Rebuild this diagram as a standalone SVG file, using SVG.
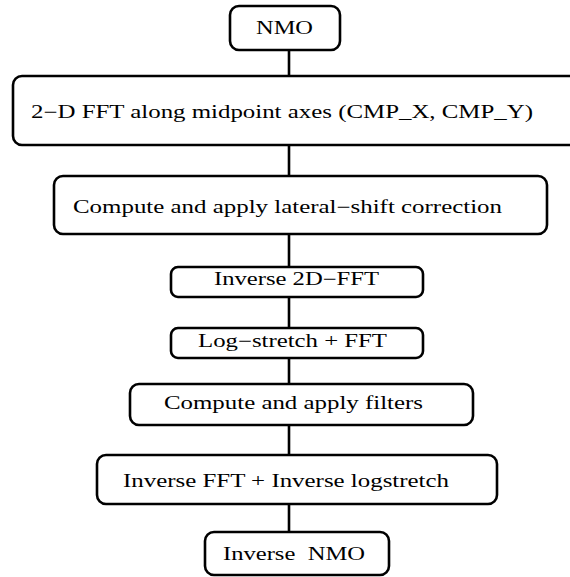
<svg xmlns="http://www.w3.org/2000/svg" width="570" height="577" viewBox="0 0 570 577">
<style>
.box{fill:#fff;stroke:#000;stroke-width:2.6}
.lbl{font-family:"Liberation Serif","Times New Roman",serif;font-size:18px;fill:#000;white-space:pre}
.con{stroke:#000;stroke-width:2.6;fill:none}
</style>
<rect width="570" height="577" fill="#fff"/>
<g id="connectors">
<line class="con" x1="289" y1="50" x2="289" y2="76"/>
<line class="con" x1="289" y1="145" x2="289" y2="176"/>
<line class="con" x1="289" y1="234" x2="289" y2="267"/>
<line class="con" x1="289" y1="297" x2="289" y2="328"/>
<line class="con" x1="289" y1="358" x2="289" y2="384"/>
<line class="con" x1="289" y1="425" x2="289" y2="455"/>
<line class="con" x1="289" y1="504" x2="289" y2="532"/>
</g>
<g id="n1"><rect class="box" x="230" y="6" width="110" height="44" rx="9"/><text class="lbl" x="256" y="34" textLength="57" lengthAdjust="spacingAndGlyphs">NMO</text></g>
<g id="n2"><rect class="box" x="13" y="76" width="570" height="69" rx="9"/><text class="lbl" x="31" y="118" textLength="502" lengthAdjust="spacingAndGlyphs">2−D FFT along midpoint axes (CMP_X, CMP_Y)</text></g>
<g id="n3"><rect class="box" x="54" y="176" width="493" height="58" rx="9"/><text class="lbl" x="73" y="213" textLength="429" lengthAdjust="spacingAndGlyphs">Compute and apply lateral−shift correction</text></g>
<g id="n4"><rect class="box" x="171" y="267" width="252" height="30" rx="7"/><text class="lbl" x="214" y="285" textLength="165" lengthAdjust="spacingAndGlyphs">Inverse 2D−FFT</text></g>
<g id="n5"><rect class="box" x="171" y="328" width="252" height="30" rx="7"/><text class="lbl" x="198" y="347" textLength="189" lengthAdjust="spacingAndGlyphs">Log−stretch + FFT</text></g>
<g id="n6"><rect class="box" x="130" y="384" width="343" height="41" rx="9"/><text class="lbl" x="164" y="409" textLength="259" lengthAdjust="spacingAndGlyphs">Compute and apply filters</text></g>
<g id="n7"><rect class="box" x="97" y="455" width="400" height="49" rx="9"/><text class="lbl" x="123" y="487" textLength="326" lengthAdjust="spacingAndGlyphs">Inverse FFT + Inverse logstretch</text></g>
<g id="n8"><rect class="box" x="205" y="532" width="184" height="43" rx="9"/><text class="lbl" x="223" y="560" textLength="142" lengthAdjust="spacingAndGlyphs">Inverse  NMO</text></g>
</svg>
